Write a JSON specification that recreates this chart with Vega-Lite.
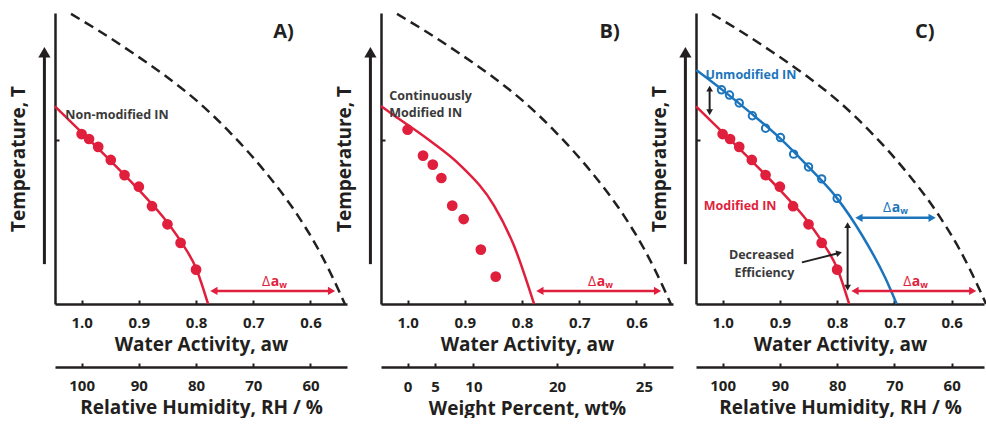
{
  "$schema": "https://vega.github.io/schema/vega-lite/v6.json",
  "background": "white",
  "padding": {"left": 9, "top": 8, "right": 0, "bottom": 0},
  "autosize": {"type": "pad"},
  "config": {
    "view": {"stroke": null},
    "font": "Open Sans",
    "axis": {"domainColor": "#231F20", "domainWidth": 2.5, "tickColor": "#231F20", "tickWidth": 2, "tickSize": -4, "grid": false, "labelFont": "Open Sans", "labelFontWeight": "bold", "labelFontSize": 15, "labelColor": "#231F20", "labelPadding": 15, "labelOverlap": false, "labelFlush": false, "titleFont": "Open Sans", "titleFontWeight": "bold", "titleFontSize": 19, "titleColor": "#231F20", "titlePadding": 5},
    "axisY": {"titleFontSize": 19, "titlePadding": 26, "labels": false}
  },
  "datasets": {
    "melt": [{"aw":1.0185,"T":99.7},{"aw":0.9708,"T":94.0},{"aw":0.9132,"T":86.6},{"aw":0.8538,"T":78.4},{"aw":0.7962,"T":69.4},{"aw":0.7385,"T":58.5},{"aw":0.6791,"T":45.4},{"aw":0.6215,"T":30.2},{"aw":0.5866,"T":18.9},{"aw":0.5661,"T":11.1},{"aw":0.5399,"T":0}],
    "redA": [{"aw":1.0465,"T":67.9},{"aw":1.0,"T":59.0},{"aw":0.95,"T":49.3},{"aw":0.9,"T":39.2},{"aw":0.85,"T":28.0},{"aw":0.825,"T":21.0},{"aw":0.8,"T":12.3},{"aw":0.779,"T":0}],
    "dotsA": [{"aw":1.0,"T":58.4},{"aw":0.987,"T":56.7},{"aw":0.971,"T":54.0},{"aw":0.949,"T":49.5},{"aw":0.925,"T":44.3},{"aw":0.9,"T":40.3},{"aw":0.877,"T":33.6},{"aw":0.85,"T":27.4},{"aw":0.827,"T":21.0},{"aw":0.8,"T":11.8}],
    "redB": [{"aw":1.0466,"T":68.0},{"aw":1.023,"T":64.7},{"aw":0.965,"T":56.7},{"aw":0.907,"T":47.5},{"aw":0.849,"T":33.8},{"aw":0.814,"T":20.0},{"aw":0.779,"T":0}],
    "dotsB": [{"aw":1.0,"T":59.9},{"aw":0.973,"T":51.0},{"aw":0.956,"T":47.9},{"aw":0.941,"T":43.3},{"aw":0.922,"T":33.8},{"aw":0.902,"T":29.2},{"aw":0.872,"T":18.7},{"aw":0.846,"T":9.4}],
    "blueC": [{"aw":1.046,"T":80.4},{"aw":1.0,"T":73.5},{"aw":0.95,"T":65.5},{"aw":0.9,"T":57.0},{"aw":0.85,"T":47.1},{"aw":0.8,"T":36.3},{"aw":0.757,"T":23.8},{"aw":0.716,"T":9.0},{"aw":0.696,"T":0}],
    "circlesC": [{"aw":1.002,"T":73.6},{"aw":0.988,"T":71.8},{"aw":0.971,"T":69.1},{"aw":0.948,"T":64.7},{"aw":0.925,"T":60.4},{"aw":0.899,"T":57.2},{"aw":0.876,"T":51.5},{"aw":0.85,"T":47.1},{"aw":0.827,"T":43.0},{"aw":0.8,"T":36.3}],
    "tShaft": [{"aw":1.065,"T":13.7,"T2":85.0}],
    "tHead": [{"aw":1.065,"T":86.5,"dir":"up"}],
    "redDelta": [{"aw":0.7688,"aw2":0.5632,"T":4.5}],
    "redDeltaHeads": [{"aw":0.7688,"T":4.5,"dir":"left"},{"aw":0.5632,"T":4.5,"dir":"right"}],
    "redDeltaText": [{"aw":0.6704,"T":7.6,"d":"Δ","a":"a","w":"w"}],
    "blueDelta": [{"aw":0.7619,"aw2":0.6341,"T":29.6}],
    "blueDeltaHeads": [{"aw":0.7619,"T":29.6,"dir":"left"},{"aw":0.6341,"T":29.6,"dir":"right"}],
    "blueDeltaText": [{"aw":0.7057,"T":33.0,"d":"Δ","a":"a","w":"w"}],
    "vArrows": [{"aw":1.0227,"T":74.0,"T2":65.9},{"aw":0.7817,"T":27.1,"T2":5.6}],
    "vHeads": [{"aw":1.0227,"T":74.0,"dir":"up"},{"aw":1.0227,"T":65.9,"dir":"down"},{"aw":0.7817,"T":27.1,"dir":"up"},{"aw":0.7817,"T":5.6,"dir":"down"}],
    "effArrow": [{"aw":0.8615,"T":14.3,"aw2":0.7966,"T2":17.5}],
    "effHead": [{"aw":0.7966,"T":17.5}]
  },
  "spacing": 34,
  "bounds": "flush",
  "hconcat": [
    {
      "width": 292, "height": 291,
      "resolve": {"scale": {"x": "independent"}},
      "layer": [
        {"layer": [
          {"data": {"name": "melt"}, "mark": {"type": "line", "color": "#231F20", "strokeWidth": 2.5, "strokeDash": [10, 6], "interpolate": "monotone"},
           "encoding": {
             "x": {"field": "aw", "type": "quantitative", "scale": {"domain": [0.5362, 1.0465], "reverse": true, "nice": false, "zero": false}, "axis": {"title": "Water Activity, aw", "values": [1, 0.9, 0.8, 0.7, 0.6], "format": ".1f"}},
             "y": {"field": "T", "type": "quantitative", "scale": {"domain": [0, 100], "nice": false, "zero": false}, "axis": {"title": "Temperature, T", "values": [56.4]}},
             "order": {"field": "aw", "sort": "descending"}}},
          {"data": {"name": "redA"}, "mark": {"type": "line", "color": "#E01F3D", "strokeWidth": 2.5, "interpolate": "monotone"},
           "encoding": {"x": {"field": "aw", "type": "quantitative"}, "y": {"field": "T", "type": "quantitative"}, "order": {"field": "aw", "sort": "descending"}}},
          {"data": {"name": "dotsA"}, "mark": {"type": "point", "filled": true, "opacity": 1, "size": 115, "color": "#E01F3D"},
           "encoding": {"x": {"field": "aw", "type": "quantitative"}, "y": {"field": "T", "type": "quantitative"}}},
          {"data": {"name": "tShaft"}, "mark": {"type": "rule", "color": "#231F20", "strokeWidth": 3},
           "encoding": {"x": {"field": "aw", "type": "quantitative"}, "y": {"field": "T", "type": "quantitative"}, "y2": {"field": "T2"}}},
          {"data": {"name": "tHead"}, "mark": {"type": "point", "filled": true, "opacity": 1, "size": 150, "color": "#231F20"},
           "encoding": {"x": {"field": "aw", "type": "quantitative"}, "y": {"field": "T", "type": "quantitative"}, "shape": {"field": "dir", "type": "nominal", "scale": {"domain": ["left", "right", "up", "down"], "range": ["triangle-left", "triangle-right", "triangle-up", "triangle-down"]}, "legend": null}}},
          {"data": {"name": "redDelta"}, "mark": {"type": "rule", "color": "#E01F3D", "strokeWidth": 2.5},
           "encoding": {"x": {"field": "aw", "type": "quantitative"}, "x2": {"field": "aw2"}, "y": {"field": "T", "type": "quantitative"}}},
          {"data": {"name": "redDeltaHeads"}, "mark": {"type": "point", "filled": true, "opacity": 1, "size": 70, "color": "#E01F3D"},
           "encoding": {"x": {"field": "aw", "type": "quantitative"}, "y": {"field": "T", "type": "quantitative"}, "shape": {"field": "dir", "type": "nominal", "scale": {"domain": ["left", "right", "up", "down"], "range": ["triangle-left", "triangle-right", "triangle-up", "triangle-down"]}, "legend": null}}},
          {"data": {"name": "redDeltaText"}, "mark": {"type": "text", "color": "#E01F3D", "align": "right", "baseline": "middle", "fontSize": 14, "fontWeight": "normal"},
           "encoding": {"x": {"field": "aw", "type": "quantitative"}, "y": {"field": "T", "type": "quantitative"}, "text": {"field": "d", "type": "nominal"}}},
          {"data": {"name": "redDeltaText"}, "mark": {"type": "text", "color": "#E01F3D", "align": "left", "baseline": "middle", "fontSize": 14, "fontWeight": "bold", "dx": 0.5},
           "encoding": {"x": {"field": "aw", "type": "quantitative"}, "y": {"field": "T", "type": "quantitative"}, "text": {"field": "a", "type": "nominal"}}},
          {"data": {"name": "redDeltaText"}, "mark": {"type": "text", "color": "#E01F3D", "align": "left", "baseline": "middle", "fontSize": 9, "fontWeight": "bold", "dx": 9, "dy": 3},
           "encoding": {"x": {"field": "aw", "type": "quantitative"}, "y": {"field": "T", "type": "quantitative"}, "text": {"field": "w", "type": "nominal"}}},
          {"data": {"values": [{"aw": 1.0285, "T": 64.9, "label": "Non-modified IN"}]}, "mark": {"type": "text", "color": "#3A3A3A", "align": "left", "baseline": "middle", "fontSize": 12.5, "fontWeight": "bold"},
           "encoding": {"x": {"field": "aw", "type": "quantitative"}, "y": {"field": "T", "type": "quantitative"}, "text": {"field": "label", "type": "nominal"}}},
          {"data": {"values": [{"aw": 0.647, "T": 93.5, "label": "A)"}]}, "mark": {"type": "text", "color": "#231F20", "align": "center", "baseline": "middle", "fontSize": 20, "fontWeight": "bold"},
           "encoding": {"x": {"field": "aw", "type": "quantitative"}, "y": {"field": "T", "type": "quantitative"}, "text": {"field": "label", "type": "nominal"}}}
        ]},
        {"data": {"values": [{"rh": 100}]}, "mark": {"type": "point", "opacity": 0},
         "encoding": {"x": {"field": "rh", "type": "quantitative", "scale": {"domain": [53.62, 104.65], "reverse": true, "nice": false, "zero": false}, "axis": {"orient": "bottom", "offset": 63, "values": [100, 90, 80, 70, 60], "title": "Relative Humidity, RH / %"}}}}
      ]
    },
    {
      "spacing": 23,
      "bounds": "flush",
      "hconcat": [
        {
          "width": 292, "height": 291,
          "resolve": {"scale": {"x": "independent"}},
          "layer": [
            {"layer": [
              {"data": {"name": "melt"}, "mark": {"type": "line", "color": "#231F20", "strokeWidth": 2.5, "strokeDash": [10, 6], "interpolate": "monotone"},
               "encoding": {
                 "x": {"field": "aw", "type": "quantitative", "scale": {"domain": [0.5362, 1.0465], "reverse": true, "nice": false, "zero": false}, "axis": {"title": "Water Activity, aw", "values": [1, 0.9, 0.8, 0.7, 0.6], "format": ".1f"}},
                 "y": {"field": "T", "type": "quantitative", "scale": {"domain": [0, 100], "nice": false, "zero": false}, "axis": {"title": "Temperature, T", "values": [56.4]}},
                 "order": {"field": "aw", "sort": "descending"}}},
              {"data": {"name": "redB"}, "mark": {"type": "line", "color": "#E01F3D", "strokeWidth": 2.5, "interpolate": "monotone"},
               "encoding": {"x": {"field": "aw", "type": "quantitative"}, "y": {"field": "T", "type": "quantitative"}, "order": {"field": "aw", "sort": "descending"}}},
              {"data": {"name": "dotsB"}, "mark": {"type": "point", "filled": true, "opacity": 1, "size": 115, "color": "#E01F3D"},
               "encoding": {"x": {"field": "aw", "type": "quantitative"}, "y": {"field": "T", "type": "quantitative"}}},
              {"data": {"name": "tShaft"}, "mark": {"type": "rule", "color": "#231F20", "strokeWidth": 3},
               "encoding": {"x": {"field": "aw", "type": "quantitative"}, "y": {"field": "T", "type": "quantitative"}, "y2": {"field": "T2"}}},
              {"data": {"name": "tHead"}, "mark": {"type": "point", "filled": true, "opacity": 1, "size": 150, "color": "#231F20"},
               "encoding": {"x": {"field": "aw", "type": "quantitative"}, "y": {"field": "T", "type": "quantitative"}, "shape": {"field": "dir", "type": "nominal", "scale": {"domain": ["left", "right", "up", "down"], "range": ["triangle-left", "triangle-right", "triangle-up", "triangle-down"]}, "legend": null}}},
              {"data": {"name": "redDelta"}, "mark": {"type": "rule", "color": "#E01F3D", "strokeWidth": 2.5},
               "encoding": {"x": {"field": "aw", "type": "quantitative"}, "x2": {"field": "aw2"}, "y": {"field": "T", "type": "quantitative"}}},
              {"data": {"name": "redDeltaHeads"}, "mark": {"type": "point", "filled": true, "opacity": 1, "size": 70, "color": "#E01F3D"},
               "encoding": {"x": {"field": "aw", "type": "quantitative"}, "y": {"field": "T", "type": "quantitative"}, "shape": {"field": "dir", "type": "nominal", "scale": {"domain": ["left", "right", "up", "down"], "range": ["triangle-left", "triangle-right", "triangle-up", "triangle-down"]}, "legend": null}}},
              {"data": {"name": "redDeltaText"}, "mark": {"type": "text", "color": "#E01F3D", "align": "right", "baseline": "middle", "fontSize": 14, "fontWeight": "normal"},
               "encoding": {"x": {"field": "aw", "type": "quantitative"}, "y": {"field": "T", "type": "quantitative"}, "text": {"field": "d", "type": "nominal"}}},
              {"data": {"name": "redDeltaText"}, "mark": {"type": "text", "color": "#E01F3D", "align": "left", "baseline": "middle", "fontSize": 14, "fontWeight": "bold", "dx": 0.5},
               "encoding": {"x": {"field": "aw", "type": "quantitative"}, "y": {"field": "T", "type": "quantitative"}, "text": {"field": "a", "type": "nominal"}}},
              {"data": {"name": "redDeltaText"}, "mark": {"type": "text", "color": "#E01F3D", "align": "left", "baseline": "middle", "fontSize": 9, "fontWeight": "bold", "dx": 9, "dy": 3},
               "encoding": {"x": {"field": "aw", "type": "quantitative"}, "y": {"field": "T", "type": "quantitative"}, "text": {"field": "w", "type": "nominal"}}},
              {"data": {"values": [{"aw": 1.032, "T": 71.6, "label": "Continuously"}, {"aw": 1.032, "T": 65.5, "label": "Modified IN"}]}, "mark": {"type": "text", "color": "#3A3A3A", "align": "left", "baseline": "middle", "fontSize": 12.5, "fontWeight": "bold"},
               "encoding": {"x": {"field": "aw", "type": "quantitative"}, "y": {"field": "T", "type": "quantitative"}, "text": {"field": "label", "type": "nominal"}}},
              {"data": {"values": [{"aw": 0.647, "T": 93.5, "label": "B)"}]}, "mark": {"type": "text", "color": "#231F20", "align": "center", "baseline": "middle", "fontSize": 20, "fontWeight": "bold"},
               "encoding": {"x": {"field": "aw", "type": "quantitative"}, "y": {"field": "T", "type": "quantitative"}, "text": {"field": "label", "type": "nominal"}}}
            ]},
            {"data": {"values": [{"aw": 1.0}]}, "mark": {"type": "point", "opacity": 0},
             "encoding": {"x": {"field": "aw", "type": "quantitative", "scale": {"domain": [0.5362, 1.0465], "reverse": true, "nice": false, "zero": false}, "axis": {"orient": "bottom", "offset": 63, "values": [1.0, 0.952, 0.885, 0.739, 0.587], "labelExpr": "datum.value > 0.98 ? '0' : datum.value > 0.92 ? '5' : datum.value > 0.8 ? '10' : datum.value > 0.66 ? '20' : '25'", "labelPadding": 16, "titlePadding": 5, "title": "Weight Percent, wt%"}}}}
          ]
        },
        {
          "width": 288, "height": 291,
          "resolve": {"scale": {"x": "independent"}},
          "layer": [
            {"layer": [
              {"data": {"name": "melt"}, "mark": {"type": "line", "color": "#231F20", "strokeWidth": 2.5, "strokeDash": [10, 6], "interpolate": "monotone"},
               "encoding": {
                 "x": {"field": "aw", "type": "quantitative", "scale": {"domain": [0.5435, 1.0465], "reverse": true, "nice": false, "zero": false}, "axis": {"title": "Water Activity, aw", "values": [1, 0.9, 0.8, 0.7, 0.6], "format": ".1f"}},
                 "y": {"field": "T", "type": "quantitative", "scale": {"domain": [0, 100], "nice": false, "zero": false}, "axis": {"title": "Temperature, T", "values": [56.4]}},
                 "order": {"field": "aw", "sort": "descending"}}},
              {"data": {"name": "redA"}, "mark": {"type": "line", "color": "#E01F3D", "strokeWidth": 2.5, "interpolate": "monotone"},
               "encoding": {"x": {"field": "aw", "type": "quantitative"}, "y": {"field": "T", "type": "quantitative"}, "order": {"field": "aw", "sort": "descending"}}},
              {"data": {"name": "blueC"}, "mark": {"type": "line", "color": "#1C75BC", "strokeWidth": 2.5, "interpolate": "monotone"},
               "encoding": {"x": {"field": "aw", "type": "quantitative"}, "y": {"field": "T", "type": "quantitative"}, "order": {"field": "aw", "sort": "descending"}}},
              {"data": {"name": "dotsA"}, "mark": {"type": "point", "filled": true, "opacity": 1, "size": 115, "color": "#E01F3D"},
               "encoding": {"x": {"field": "aw", "type": "quantitative"}, "y": {"field": "T", "type": "quantitative"}}},
              {"data": {"name": "circlesC"}, "mark": {"type": "point", "filled": false, "opacity": 1, "size": 55, "strokeWidth": 2, "color": "#1C75BC"},
               "encoding": {"x": {"field": "aw", "type": "quantitative"}, "y": {"field": "T", "type": "quantitative"}}},
              {"data": {"name": "tShaft"}, "mark": {"type": "rule", "color": "#231F20", "strokeWidth": 3},
               "encoding": {"x": {"field": "aw", "type": "quantitative"}, "y": {"field": "T", "type": "quantitative"}, "y2": {"field": "T2"}}},
              {"data": {"name": "tHead"}, "mark": {"type": "point", "filled": true, "opacity": 1, "size": 150, "color": "#231F20"},
               "encoding": {"x": {"field": "aw", "type": "quantitative"}, "y": {"field": "T", "type": "quantitative"}, "shape": {"field": "dir", "type": "nominal", "scale": {"domain": ["left", "right", "up", "down"], "range": ["triangle-left", "triangle-right", "triangle-up", "triangle-down"]}, "legend": null}}},
              {"data": {"name": "redDelta"}, "mark": {"type": "rule", "color": "#E01F3D", "strokeWidth": 2.5},
               "encoding": {"x": {"field": "aw", "type": "quantitative"}, "x2": {"field": "aw2"}, "y": {"field": "T", "type": "quantitative"}}},
              {"data": {"name": "redDeltaHeads"}, "mark": {"type": "point", "filled": true, "opacity": 1, "size": 70, "color": "#E01F3D"},
               "encoding": {"x": {"field": "aw", "type": "quantitative"}, "y": {"field": "T", "type": "quantitative"}, "shape": {"field": "dir", "type": "nominal", "scale": {"domain": ["left", "right", "up", "down"], "range": ["triangle-left", "triangle-right", "triangle-up", "triangle-down"]}, "legend": null}}},
              {"data": {"name": "redDeltaText"}, "mark": {"type": "text", "color": "#E01F3D", "align": "right", "baseline": "middle", "fontSize": 14, "fontWeight": "normal"},
               "encoding": {"x": {"field": "aw", "type": "quantitative"}, "y": {"field": "T", "type": "quantitative"}, "text": {"field": "d", "type": "nominal"}}},
              {"data": {"name": "redDeltaText"}, "mark": {"type": "text", "color": "#E01F3D", "align": "left", "baseline": "middle", "fontSize": 14, "fontWeight": "bold", "dx": 0.5},
               "encoding": {"x": {"field": "aw", "type": "quantitative"}, "y": {"field": "T", "type": "quantitative"}, "text": {"field": "a", "type": "nominal"}}},
              {"data": {"name": "redDeltaText"}, "mark": {"type": "text", "color": "#E01F3D", "align": "left", "baseline": "middle", "fontSize": 9, "fontWeight": "bold", "dx": 9, "dy": 3},
               "encoding": {"x": {"field": "aw", "type": "quantitative"}, "y": {"field": "T", "type": "quantitative"}, "text": {"field": "w", "type": "nominal"}}},
              {"data": {"name": "blueDelta"}, "mark": {"type": "rule", "color": "#1C75BC", "strokeWidth": 2.5},
               "encoding": {"x": {"field": "aw", "type": "quantitative"}, "x2": {"field": "aw2"}, "y": {"field": "T", "type": "quantitative"}}},
              {"data": {"name": "blueDeltaHeads"}, "mark": {"type": "point", "filled": true, "opacity": 1, "size": 70, "color": "#1C75BC"},
               "encoding": {"x": {"field": "aw", "type": "quantitative"}, "y": {"field": "T", "type": "quantitative"}, "shape": {"field": "dir", "type": "nominal", "scale": {"domain": ["left", "right", "up", "down"], "range": ["triangle-left", "triangle-right", "triangle-up", "triangle-down"]}, "legend": null}}},
              {"data": {"name": "blueDeltaText"}, "mark": {"type": "text", "color": "#1C75BC", "align": "right", "baseline": "middle", "fontSize": 14, "fontWeight": "normal"},
               "encoding": {"x": {"field": "aw", "type": "quantitative"}, "y": {"field": "T", "type": "quantitative"}, "text": {"field": "d", "type": "nominal"}}},
              {"data": {"name": "blueDeltaText"}, "mark": {"type": "text", "color": "#1C75BC", "align": "left", "baseline": "middle", "fontSize": 14, "fontWeight": "bold", "dx": 0.5},
               "encoding": {"x": {"field": "aw", "type": "quantitative"}, "y": {"field": "T", "type": "quantitative"}, "text": {"field": "a", "type": "nominal"}}},
              {"data": {"name": "blueDeltaText"}, "mark": {"type": "text", "color": "#1C75BC", "align": "left", "baseline": "middle", "fontSize": 9, "fontWeight": "bold", "dx": 9, "dy": 3},
               "encoding": {"x": {"field": "aw", "type": "quantitative"}, "y": {"field": "T", "type": "quantitative"}, "text": {"field": "w", "type": "nominal"}}},
              {"data": {"name": "vArrows"}, "mark": {"type": "rule", "color": "#231F20", "strokeWidth": 2},
               "encoding": {"x": {"field": "aw", "type": "quantitative"}, "y": {"field": "T", "type": "quantitative"}, "y2": {"field": "T2"}}},
              {"data": {"name": "vHeads"}, "mark": {"type": "point", "filled": true, "opacity": 1, "size": 45, "color": "#231F20"},
               "encoding": {"x": {"field": "aw", "type": "quantitative"}, "y": {"field": "T", "type": "quantitative"}, "shape": {"field": "dir", "type": "nominal", "scale": {"domain": ["left", "right", "up", "down"], "range": ["triangle-left", "triangle-right", "triangle-up", "triangle-down"]}, "legend": null}}},
              {"data": {"name": "effArrow"}, "mark": {"type": "rule", "color": "#231F20", "strokeWidth": 2},
               "encoding": {"x": {"field": "aw", "type": "quantitative"}, "x2": {"field": "aw2"}, "y": {"field": "T", "type": "quantitative"}, "y2": {"field": "T2"}}},
              {"data": {"name": "effHead"}, "mark": {"type": "point", "filled": true, "opacity": 1, "size": 45, "color": "#231F20", "shape": "triangle-right", "angle": 346},
               "encoding": {"x": {"field": "aw", "type": "quantitative"}, "y": {"field": "T", "type": "quantitative"}}},
              {"data": {"values": [{"aw": 1.030, "T": 78.7, "label": "Unmodified IN"}]}, "mark": {"type": "text", "color": "#1C75BC", "align": "left", "baseline": "middle", "fontSize": 12.5, "fontWeight": "bold"},
               "encoding": {"x": {"field": "aw", "type": "quantitative"}, "y": {"field": "T", "type": "quantitative"}, "text": {"field": "label", "type": "nominal"}}},
              {"data": {"values": [{"aw": 1.033, "T": 33.8, "label": "Modified IN"}]}, "mark": {"type": "text", "color": "#E01F3D", "align": "left", "baseline": "middle", "fontSize": 12.5, "fontWeight": "bold"},
               "encoding": {"x": {"field": "aw", "type": "quantitative"}, "y": {"field": "T", "type": "quantitative"}, "text": {"field": "label", "type": "nominal"}}},
              {"data": {"values": [{"aw": 0.932, "T": 16.8, "label": "Decreased"}, {"aw": 0.927, "T": 10.6, "label": "Efficiency"}]}, "mark": {"type": "text", "color": "#3A3A3A", "align": "center", "baseline": "middle", "fontSize": 12.5, "fontWeight": "bold"},
               "encoding": {"x": {"field": "aw", "type": "quantitative"}, "y": {"field": "T", "type": "quantitative"}, "text": {"field": "label", "type": "nominal"}}},
              {"data": {"values": [{"aw": 0.647, "T": 93.5, "label": "C)"}]}, "mark": {"type": "text", "color": "#231F20", "align": "center", "baseline": "middle", "fontSize": 20, "fontWeight": "bold"},
               "encoding": {"x": {"field": "aw", "type": "quantitative"}, "y": {"field": "T", "type": "quantitative"}, "text": {"field": "label", "type": "nominal"}}}
            ]},
            {"data": {"values": [{"rh": 100}]}, "mark": {"type": "point", "opacity": 0},
             "encoding": {"x": {"field": "rh", "type": "quantitative", "scale": {"domain": [54.35, 104.65], "reverse": true, "nice": false, "zero": false}, "axis": {"orient": "bottom", "offset": 63, "values": [100, 90, 80, 70, 60], "title": "Relative Humidity, RH / %"}}}}
          ]
        }
      ]
    }
  ]
}
